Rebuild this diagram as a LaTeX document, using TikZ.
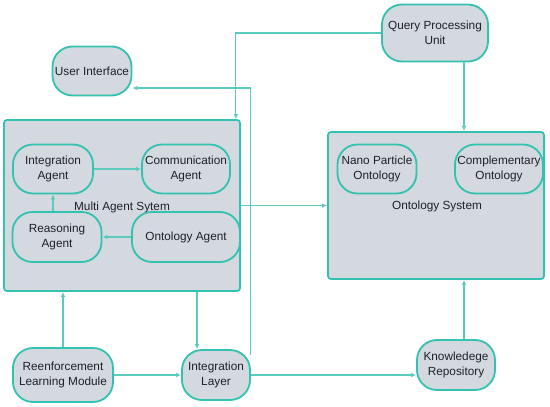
\documentclass[tikz,border=0pt]{standalone}
\usepackage{fontspec}
\setmainfont{Liberation Sans}
\usepackage{xcolor}
\usetikzlibrary{arrows.meta,positioning,calc}
\definecolor{mastteal}{HTML}{33C1B1}
\definecolor{mastline}{HTML}{5CCABE}
\definecolor{mastfill}{HTML}{D3D9DF}
\definecolor{mastink}{HTML}{1E2228}

\begin{document}
\begin{tikzpicture}[
  x=1pt,y=-1pt,
  pill/.style={rounded corners=20pt,draw=mastteal,fill=mastfill,line width=1.8pt,align=center,
    font=\fontsize{11.8}{15}\selectfont,text=mastink,inner sep=1pt},
  panel/.style={rounded corners=3pt,draw=mastteal,fill=mastfill,line width=1.8pt},
  tag/.style={font=\fontsize{11.8}{15}\selectfont,text=mastink,inner sep=1pt},
  link/.style={draw=mastline,line width=1.1pt,-{Latex[length=5pt,width=4.5pt]}}]
  \useasboundingbox (0,0) rectangle (550,407);
  % the two system panels
  \node[panel,minimum width=236pt,minimum height=171pt] (mas) at (122,205.5) {};
  \node[panel,minimum width=216pt,minimum height=147pt] (os) at (436,205.5) {};
  \node[tag] (maslbl) at (122,207) {Multi Agent Sytem};
  \node[tag] (oslbl) at (437,206) {Ontology System};
  % outer nodes
  \node[pill,minimum width=79pt,minimum height=49pt] (ui) at (92,71) {User Interface};
  \node[pill,minimum width=106pt,minimum height=57pt] (qpu) at (435,33) {Query Processing\\Unit};
  \node[pill,minimum width=100pt,minimum height=54pt] (rlm) at (63,375) {Reenforcement\\Learning Module};
  \node[pill,minimum width=68pt,minimum height=50pt] (il) at (216,375) {Integration\\Layer};
  \node[pill,minimum width=78pt,minimum height=50pt] (kr) at (456,365) {Knowledege\\Repository};
  % agents
  \node[pill,minimum width=80pt,minimum height=49pt] (ia) at (53,169) {Integration\\Agent};
  \node[pill,minimum width=88pt,minimum height=49pt] (ca) at (186,169) {Communication\\Agent};
  \node[pill,minimum width=89pt,minimum height=50pt] (ra) at (57,237) {Reasoning\\Agent};
  \node[pill,minimum width=108pt,minimum height=50pt] (oa) at (186,237) {Ontology Agent};
  % ontologies
  \node[pill,minimum width=79pt,minimum height=49pt] (npo) at (377,169) {Nano Particle\\Ontology};
  \node[pill,minimum width=88pt,minimum height=49pt] (co) at (499,169) {Complementary\\Ontology};
  \coordinate (ox) at (464,0);
  \coordinate (mx) at (197,0);
  % connectors
  \draw[link] (ia) -- (ca);
  \draw[link] (oa) -- (ra);
  \draw[link] (ia.south |- ra.north) -- (ia.south);
  \draw[link] (qpu.west) -| ($(mas.north east)+(-5,0)$);
  \draw[link] (qpu.south -| ox) -- (os.north -| ox);
  \draw[link] (kr.north -| ox) -- (os.south -| ox);
  \draw[link] (mas.east) -- (os.west);
  \draw[link] (rlm.north) -- (rlm.north |- mas.south);
  \draw[link] (mas.south -| mx) -- (il.north -| mx);
  \draw[link] (rlm.east |- il.west) -- (il.west);
  \draw[link] (il.east) -- (kr.west |- il.east);
  \draw[link] ($(il.north east)+(0,6)$) |- ($(ui.east)+(0,17)$);
\end{tikzpicture}
\end{document}
